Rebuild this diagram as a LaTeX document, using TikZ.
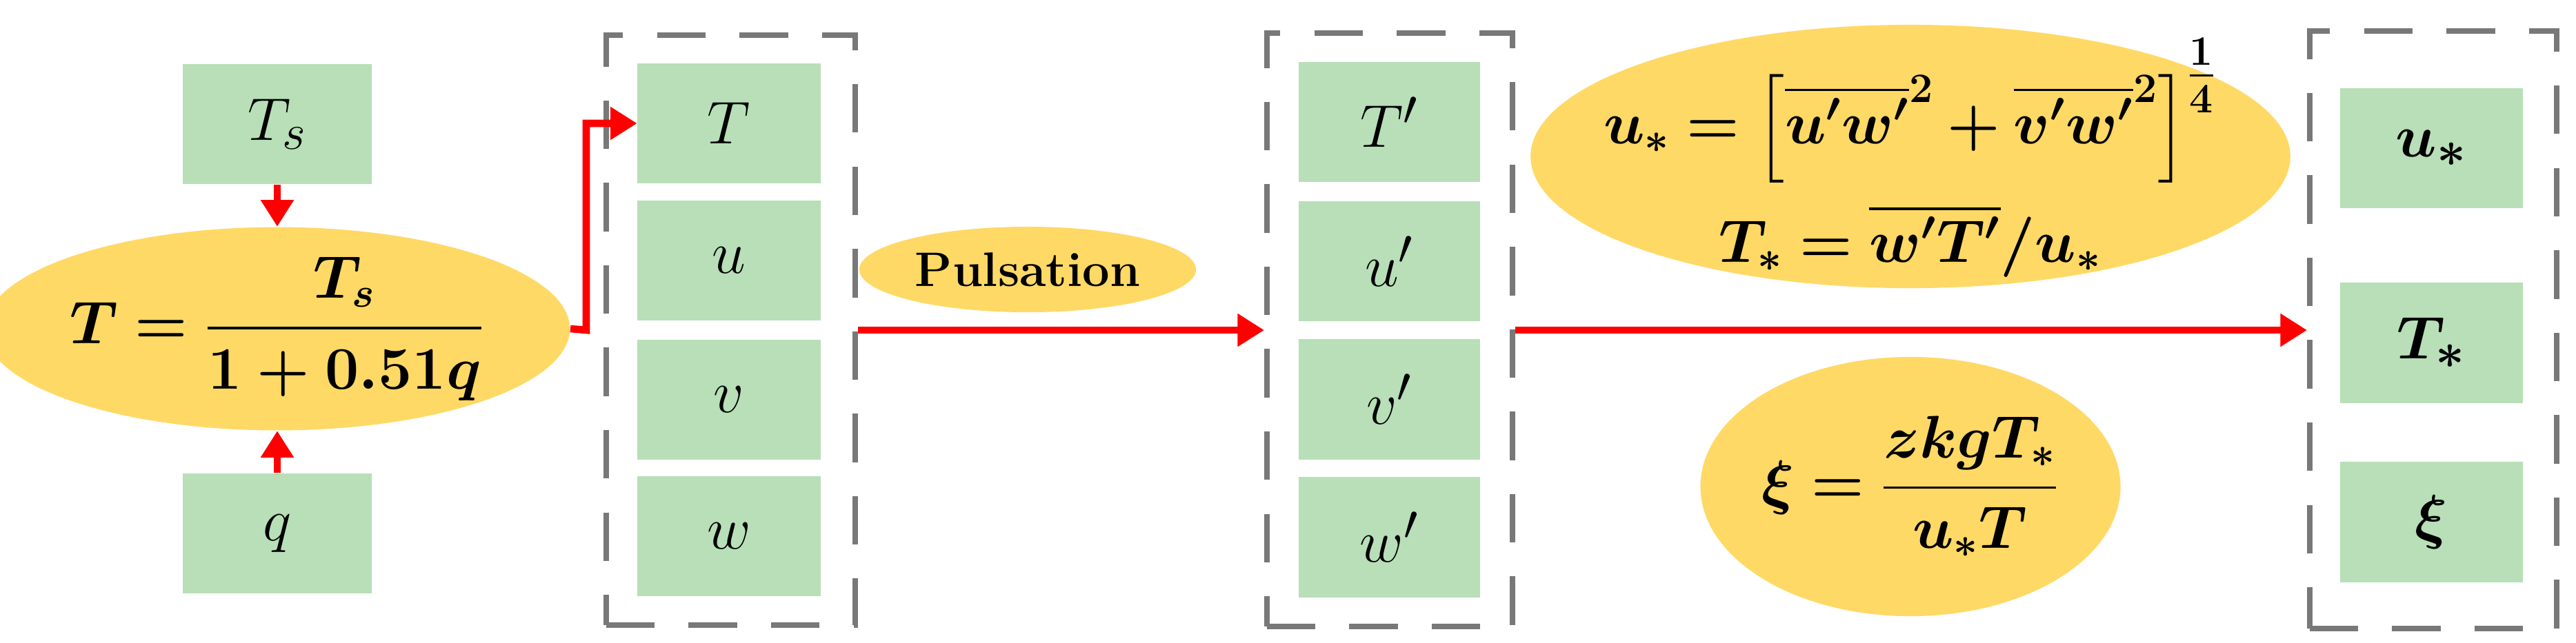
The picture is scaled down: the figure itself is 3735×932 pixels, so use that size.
\documentclass[tikz,border=0pt]{standalone}
\usepackage{amsmath,bm}
\usetikzlibrary{shapes.geometric,arrows.meta}
\definecolor{gbox}{RGB}{184,223,184}
\definecolor{yel}{RGB}{255,217,102}
\definecolor{dgray}{RGB}{120,120,120}
\tikzset{
 gb/.style={fill=gbox,minimum width=2.65cm,minimum height=1.74cm,inner sep=0pt,font=\fontsize{29}{34}\selectfont},
 ell/.style={ellipse,fill=yel,inner sep=0pt,font=\fontsize{25}{30}\selectfont},
 grp/.style={draw=dgray,line width=2.2pt,dash pattern=on 20pt off 14pt},
 rarr/.style={draw=red,line width=3pt,-{Triangle[length=11pt,width=13pt]}}
}
\begin{document}
\begin{tikzpicture}[x=0.01cm,y=-0.01cm]
\useasboundingbox (0,0) rectangle (3735,932);
% group frames
\node[grp,minimum width=3.61cm,minimum height=8.56cm] (g1) at (1059.5,479) {};
\node[grp,minimum width=3.56cm,minimum height=8.61cm] (g2) at (2015,478.5) {};
\node[grp,minimum width=3.58cm,minimum height=8.67cm] (g3) at (3528,478.5) {};
% left
\node[gb,minimum width=2.74cm] (ts) at (402,180) {$T_s$};
\node[gb,minimum width=2.74cm] (q) at (402,774) {$q$};
\node[ell,minimum width=7.54cm,minimum height=2.74cm] (eT) at (402,477)
  {$\bm{T=\dfrac{T_s}{1+0.51q}}$};
% column 1
\node[gb] (b1) at (1057,179) {$T$};
\node[gb] (b2) at (1057,378) {$u$};
\node[gb] (b3) at (1057,580) {$v$};
\node[gb] (b4) at (1057,778) {$w$};
% pulsation
\node[ell,minimum width=4.88cm,minimum height=1.24cm,font=\fontsize{20}{24}\selectfont\bfseries] (pul) at (1490,391) {Pulsation};
% column 2
\node[gb,minimum width=2.63cm] (c1) at (2014.5,177) {$T'$};
\node[gb,minimum width=2.63cm] (c2) at (2014.5,379) {$u'$};
\node[gb,minimum width=2.63cm] (c3) at (2014.5,579.5) {$v'$};
\node[gb,minimum width=2.63cm] (c4) at (2014.5,779.5) {$w'$};
% formulas
\node[ell,minimum width=11.01cm,minimum height=3.82cm] (eu) at (2770,227) {};
\node (fu) at (2770,160) {\fontsize{25}{30}\selectfont$\bm{u_*=\left[\overline{u'w'}^{2}+\overline{v'w'}^{2}\right]^{\textstyle\frac14}}$};
\node (ft) at (2770,350) {\fontsize{25}{30}\selectfont$\bm{T_*=\overline{w'T'}/u_*}$};
\node[ell,minimum width=5.78cm,minimum height=3.76cm] (ex) at (2770,706) {$\bm{\xi=\dfrac{zkgT_*}{u_*T}}$};
% column 3
\node[gb] (d1) at (3525.5,215) {$\bm{u_*}$};
\node[gb] (d2) at (3525.5,497.5) {$\bm{T_*}$};
\node[gb] (d3) at (3525.5,757.5) {$\bm{\xi}$};
% arrows
\draw[rarr] (ts.south) -- (eT.north);
\draw[rarr] (q.north) -- (eT.south);
\coordinate (k1) at (850,479);
\draw[rarr] (eT.east) -- (k1) |- (b1.west);
\draw[rarr] (g1.east |- 0,479) -- (g2.west |- 0,479);
\draw[rarr] (g2.east |- 0,479) -- (g3.west |- 0,479);
\end{tikzpicture}
\end{document}
